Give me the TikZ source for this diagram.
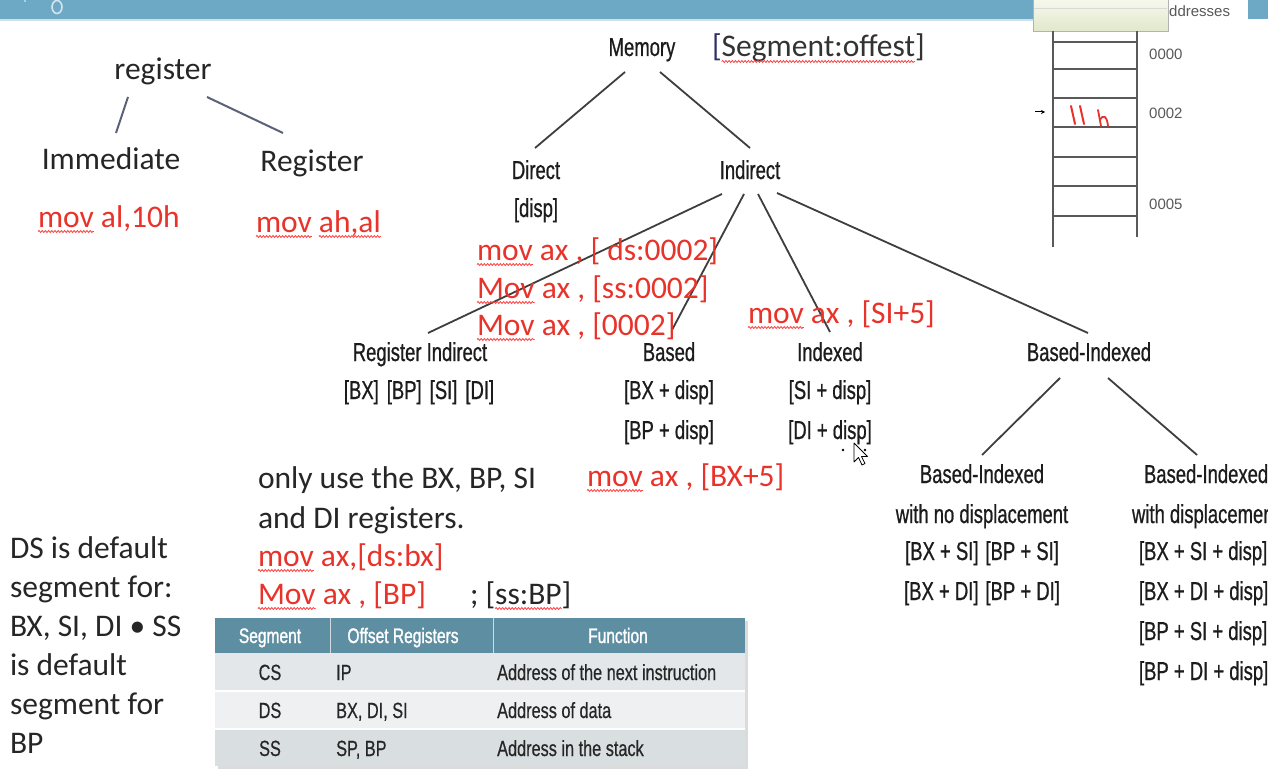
\documentclass[tikz,border=0pt]{standalone}
\usepackage{fontspec}
\setmainfont{Carlito}
\newfontfamily\narrowfont[FakeStretch=0.71,FakeBold=0.7]{Liberation Sans}
\newfontfamily\tblfont[FakeStretch=0.74,FakeBold=0.5]{Liberation Sans}
\newfontfamily\tblheadfont[FakeStretch=0.74,FakeBold=1.2]{Liberation Sans}
\newfontfamily\plainsans{Liberation Sans}
\usetikzlibrary{calc,decorations.pathmorphing,arrows.meta}
\definecolor{hdrblue}{HTML}{6DA8C4}
\definecolor{inkred}{HTML}{E8332B}
\definecolor{ink}{HTML}{262626}
\definecolor{treeink}{HTML}{1C1C1C}
\definecolor{slate}{HTML}{5B6178}
\definecolor{navy}{HTML}{2E2F66}
\definecolor{tblhead}{HTML}{5E8EA1}
\definecolor{rowA}{HTML}{E3E7E9}
\definecolor{rowB}{HTML}{EEF0F1}
\definecolor{rowC}{HTML}{D9DEE1}
\definecolor{paleA}{HTML}{F6F8EC}
\definecolor{paleB}{HTML}{E1E8CC}
\newcommand\squig[1]{\draw[wave] ([yshift=-4.5pt]#1.base west) -- ([yshift=-4.5pt]#1.base east);}

\begin{document}
\begin{tikzpicture}[x=1pt,y=-1pt,
  cal/.style={font=\fontsize{31.5}{38}\selectfont, text=ink, inner sep=0pt, outer sep=0pt, anchor=base west},
  calred/.style={cal, text=inkred},
  tree/.style={font=\narrowfont\fontsize{26}{31}\selectfont, text=treeink, inner sep=0pt, outer sep=0pt, anchor=base},
  treeleft/.style={tree, anchor=base west},
  tl/.style={draw=treeink!85, line width=1.8pt},
  rl/.style={draw=slate, line width=2pt},
  wave/.style={draw=red!75, line width=0.8pt, decorate, decoration={snake, amplitude=1pt, segment length=3.2pt}},
  thead/.style={font=\tblheadfont\fontsize{21}{25}\selectfont, text=white, inner sep=0pt, anchor=base},
  tcell/.style={font=\tblfont\fontsize{22}{26}\selectfont, text=ink, inner sep=0pt, anchor=base west},
  tcellc/.style={tcell, anchor=base},
  addr/.style={font=\plainsans\fontsize{15}{18}\selectfont, text=black!65, inner sep=0pt, anchor=base west},
  stk/.style={draw=black!65, line width=1.4pt}
]
\useasboundingbox (0,0) rectangle (1268,778);
\fill[white] (0,0) rectangle (1268,778);

% title bar
\fill[hdrblue] (0,0) rectangle (1033,19);
\fill[hdrblue] (1248,0) rectangle (1268,19);
\draw[hdrblue!35, line width=1.5pt] (0,20) -- (1033,20);
\draw[white!70!hdrblue, line width=1.6pt] (57,7) ellipse (5pt and 6.5pt);
\fill[white!60!hdrblue] (25,1) circle (1.2pt);

% address panel
\shade[top color=paleA, bottom color=paleB] (1033,0) rectangle (1168,31);
\draw[black!30, line width=0.8pt] (1033,0) -- (1033,31) -- (1168,31) -- (1168,0);
\draw[black!15] (1034,8) -- (1167,8);
\node[addr] (addrhead) at (1169,17) {ddresses};
\draw[stk] (1053,31) -- (1053,247);
\draw[stk] (1137,31) -- (1137,237);
\foreach \yy in {42,69,98,127,157,186,216} \draw[stk] (1053,\yy) -- (1137,\yy);
\node[addr] (a0) at (1149,60) {0000};
\node[addr] (a2) at (1149,119) {0002};
\node[addr] (a5) at (1149,209) {0005};
\coordinate (ptrtail) at (1035,112);
\coordinate (ptrhead) at (1045,112);
\draw[line width=1pt, -{Stealth[length=4pt,width=4pt]}] (ptrtail) -- (ptrhead);
% handwritten value in cell 0002
\draw[inkred, line width=2pt, line cap=round] (1071,106) -- (1075,124);
\draw[inkred, line width=2pt, line cap=round] (1080,106) -- (1084,124);
\draw[inkred, line width=1.8pt, line cap=round] (1098,110) -- (1101,126);
\draw[inkred, line width=1.8pt, line cap=round] (1100,120) .. controls (1103,114) and (1107,116) .. (1108,126);

% register modes
\node[cal, anchor=base] (regtop) at (163,80) {register};
\node[cal, anchor=base] (imm) at (111,170) {Immediate};
\node[cal, anchor=base] (regmode) at (312,172) {Register};
\draw[rl] ($(regtop.base)+(-35,17)$) -- ($(imm.base)+(5,-37)$);
\draw[rl] ($(regtop.base)+(44,17)$) -- ($(regmode.base)+(-29,-39)$);
\node[calred] (ex1) at (38,227) {mov};
\node[calred] (ex1b) at (ex1.base east) {\ al,10h};
\squig{ex1}
\node[calred] (ex2) at (256,232) {mov};
\node[calred] (ex2b) at ($(ex2.base east)+(7.1,0)$) {ah,al};
\squig{ex2}
\squig{ex2b}

% memory modes tree
\node[tree] (mem) at (642,56) {Memory};
\node[cal, text=navy] (sgo) at (712,57) {[};
\node[cal, text=black!80] (sgm) at (sgo.base east) {Segment:offest};
\node[cal, text=black!80] (sgc) at (sgm.base east) {]};
\squig{sgm}
\node[tree] (dir) at (536,179) {Direct};
\node[tree] (dsp) at (536,217) {[disp]};
\node[tree] (ind) at (750,179) {Indirect};
\draw[tl] ($(mem.base)+(-17,16)$) -- ($(dir.base)+(-1,-31)$);
\draw[tl] ($(mem.base)+(18,16)$) -- ($(ind.base)+(0,-31)$);

\node[tree] (ri) at (420,361) {Register Indirect};
\node[tree] (riex) at (419,399) {[BX]\hspace{8pt}[BP]\hspace{8pt}[SI]\hspace{8pt}[DI]};
\node[tree] (bas) at (669,361) {Based};
\node[tree] (bas1) at (669,399) {[BX + disp]};
\node[tree] (bas2) at (669,439) {[BP + disp]};
\node[tree] (idx) at (830,361) {Indexed};
\node[tree] (idx1) at (830,399) {[SI + disp]};
\node[tree] (idx2) at (830,439) {[DI + disp]};
\node[tree] (bi) at (1089,361) {Based-Indexed};
\draw[tl] ($(ind.base)+(-28,15)$) -- ($(ri.base)+(8,-28)$);
\draw[tl] ($(ind.base)+(-6,15)$) -- ($(bas.base)+(3,-31)$);
\draw[tl] ($(ind.base)+(8,15)$) -- ($(idx.base)+(0,-29)$);
\draw[tl] ($(ind.base)+(27,14)$) -- ($(bi.base)+(-1,-28)$);

\node[tree] (bil) at (982,483) {Based-Indexed};
\node[tree] (bil1) at (982,523) {with no displacement};
\node[tree] (bil2) at (982,560) {[BX + SI]\hspace{7pt}[BP + SI]};
\node[tree] (bil3) at (982,600) {[BX + DI]\hspace{7pt}[BP + DI]};
\node[treeleft] (bir) at (1144,483) {Based-Indexed};
\node[treeleft] (bir1) at (1132,523) {with displacement};
\node[treeleft] (bir2) at (1139,560) {[BX + SI + disp]};
\node[treeleft] (bir3) at (1139,600) {[BX + DI + disp]};
\node[treeleft] (bir4) at (1139,640) {[BP + SI + disp]};
\node[treeleft] (bir5) at (1139,680) {[BP + DI + disp]};
\draw[tl] ($(bi.base)+(-29,17)$) -- ($(bil.base)+(0,-28)$);
\draw[tl] ($(bi.base)+(19,17)$) -- ($(bir.base)+(-9,-28)$);

% direct addressing examples
\node[calred] (d1) at (477,260) {mov};
\node[calred] (d1b) at (d1.base east) {\ ax , [ ds:0002]};
\node[calred] (d2) at (477,298) {Mov};
\node[calred] (d2b) at (d2.base east) {\ ax , [ss:0002]};
\node[calred] (d3) at (477,335) {Mov};
\node[calred] (d3b) at (d3.base east) {\ ax , [0002]};
\squig{d1}
\squig{d2}
\squig{d3}
\node[calred] (x1) at (748,323) {mov};
\node[calred] (x1b) at (x1.base east) {\ ax , [SI+5]};
\squig{x1}
\node[calred] (b1) at (587,486) {mov};
\node[calred] (b1b) at (b1.base east) {\ ax , [BX+5]};
\squig{b1}

% register indirect notes
\node[cal] (n1) at (258,488) {only use the BX, BP, SI};
\node[cal] (n2) at (258,528) {and DI registers.};
\node[calred] (r1) at (258,566) {mov};
\node[calred] (r1b) at (r1.base east) {\ ax,[ds:bx]};
\squig{r1}
\node[calred] (r2) at (258,604) {Mov};
\node[calred] (r2b) at (r2.base east) {\ ax , [BP]};
\squig{r2}
\node[cal] (c1) at (470,604) {; [};
\node[cal] (c1b) at (c1.base east) {ss:BP};
\node[cal] (c1c) at (c1b.base east) {]};
\squig{c1b}

% default segments
\node[cal] (s1) at (10,558) {DS is default};
\node[cal] (s2) at (10,597) {segment for:};
\node[cal] (s3) at (10,636) {BX, SI, DI • SS};
\node[cal] (s4) at (10,675) {is default};
\node[cal] (s5) at (10,714) {segment for};
\node[cal] (s6) at (10,753) {BP};

% segment / offset table
\fill[black!14] (218,621) rectangle (748,769);
\fill[tblhead] (215,618) rectangle (745,653);
\fill[rowA] (215,653) rectangle (745,691);
\fill[rowB] (215,691) rectangle (745,729);
\fill[rowC] (215,729) rectangle (745,766);
\draw[white!70!tblhead, line width=1pt] (330,618) -- (330,653);
\draw[white!70!tblhead, line width=1pt] (493,618) -- (493,653);
\draw[white, line width=1.2pt] (215,691) -- (745,691);
\draw[white, line width=1.2pt] (215,729) -- (745,729);
\node[thead] (h1) at (270,643) {Segment};
\node[thead] (h2) at (403,643) {Offset Registers};
\node[thead] (h3) at (618,643) {Function};
\node[tcellc] (t11) at (270,680) {CS};
\node[tcell] (t12) at (336,680) {IP};
\node[tcell] (t13) at (497,680) {Address of the next instruction};
\node[tcellc] (t21) at (270,718) {DS};
\node[tcell] (t22) at (336,718) {BX, DI, SI};
\node[tcell] (t23) at (497,718) {Address of data};
\node[tcellc] (t31) at (270,756) {SS};
\node[tcell] (t32) at (336,756) {SP, BP};
\node[tcell] (t33) at (497,756) {Address in the stack};

% mouse pointer
\fill[black] (843,450) circle (1.3pt);
\fill[black] (865,450) circle (1.3pt);
\draw[fill=white, line width=0.8pt, line join=round] (854,443) -- (854,462) -- (858.5,457.5) -- (862,465) -- (865,463.5) -- (861.5,456.5) -- (867.5,456.5) -- cycle;
\end{tikzpicture}
\end{document}
